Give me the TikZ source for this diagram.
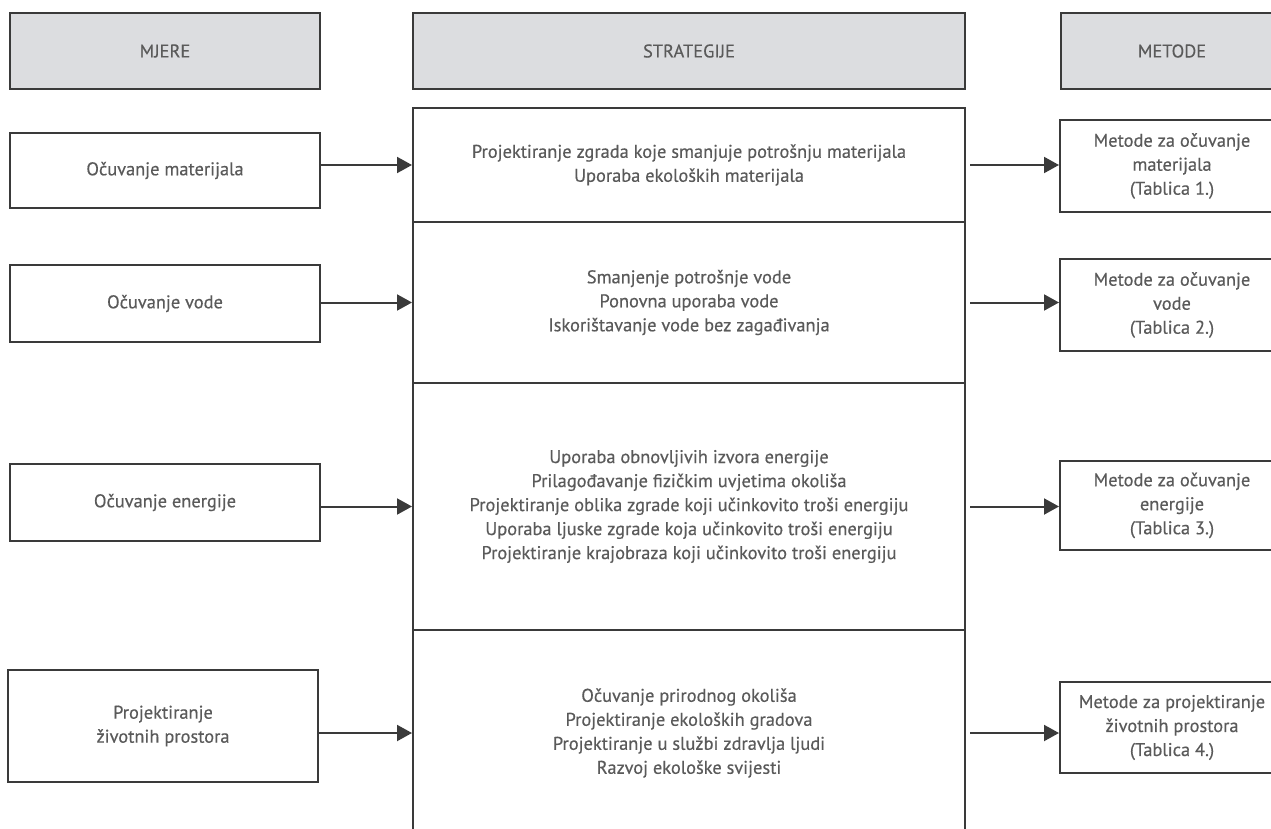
\documentclass[tikz,border=0pt]{standalone}
\usepackage{fontspec}
\setmainfont{PT Sans}[FakeBold=0.4]
\usetikzlibrary{arrows.meta}
\definecolor{crta}{HTML}{3A3A3A}
\definecolor{tekst}{HTML}{5A5A5A}
\definecolor{zaglavlje}{HTML}{DCDDE0}

\begin{document}
\begin{tikzpicture}[x=1pt, y=-1pt,
    okvir/.style={draw=crta, line width=2pt, fill=white, text=tekst, align=center,
        font=\fontsize{18.4}{24}\selectfont, inner sep=0pt},
    naslov/.style={okvir, fill=zaglavlje, minimum height=76pt},
    strelica/.style={draw=crta, line width=2pt, -{Triangle[length=15pt, width=16pt]}}]
    \clip (0,0) rectangle (1271,829);
    % \draw (0,0) rectangle (1271,829); % page frame
% headers
\node[naslov, minimum width=310pt] (hMjere) at (165,51) {MJERE};
\node[naslov, minimum width=552pt] (hStrat) at (689,51) {STRATEGIJE};
\node[naslov, minimum width=222pt] (hMetode) at (1172,51) {METODE};
% mjere
\node[okvir, minimum width=310pt, minimum height=75pt] (m1) at (165,170.5) {Očuvanje materijala};
\node[okvir, minimum width=310pt, minimum height=77pt] (m2) at (165,303.5) {Očuvanje vode};
\node[okvir, minimum width=310pt, minimum height=77pt] (m3) at (165,502.5) {Očuvanje energije};
\node[okvir, minimum width=310pt, minimum height=112pt] (m4) at (163,726) {Projektiranje\\životnih prostora};
% strategije
\node[okvir, minimum width=552pt, minimum height=114pt] (s1) at (689,165)
    {Projektiranje zgrada koje smanjuje potrošnju materijala\\Uporaba ekoloških materijala};
\node[okvir, minimum width=552pt, minimum height=161pt] (s2) at (689,302.5)
    {Smanjenje potrošnje vode\\Ponovna uporaba vode\\Iskorištavanje vode bez zagađivanja};
\node[okvir, minimum width=552pt, minimum height=247pt] (s3) at (689,506.5)
    {Uporaba obnovljivih izvora energije\\Prilagođavanje fizičkim uvjetima okoliša\\
     Projektiranje oblika zgrade koji učinkovito troši energiju\\
     Uporaba ljuske zgrade koja učinkovito troši energiju\\
     Projektiranje krajobraza koji učinkovito troši energiju};
\node[okvir, minimum width=552pt, minimum height=206pt] (s4) at (689,733)
    {Očuvanje prirodnog okoliša\\Projektiranje ekoloških gradova\\
     Projektiranje u službi zdravlja ljudi\\Razvoj ekološke svijesti};
% metode
\node[okvir, minimum width=224pt, minimum height=92pt] (t1) at (1172,166)
    {Metode za očuvanje\\materijala\\(Tablica 1.)};
\node[okvir, minimum width=224pt, minimum height=92pt] (t2) at (1172,305)
    {Metode za očuvanje\\vode\\(Tablica 2.)};
\node[okvir, minimum width=224pt, minimum height=89pt] (t3) at (1172,505.5)
    {Metode za očuvanje\\energije\\(Tablica 3.)};
\node[okvir, minimum width=224pt, minimum height=91pt] (t4) at (1172,727.5)
    {Metode za projektiranje\\životnih prostora\\(Tablica 4.)};
% strelice
\foreach \i in {1,2,3,4}{
    \draw[strelica] (s\i.west -| m\i.east) -- (s\i.west);
    \draw[strelica] ([xshift=4pt]s\i.east) -- (s\i.east -| t\i.west);
}
\end{tikzpicture}
\end{document}
